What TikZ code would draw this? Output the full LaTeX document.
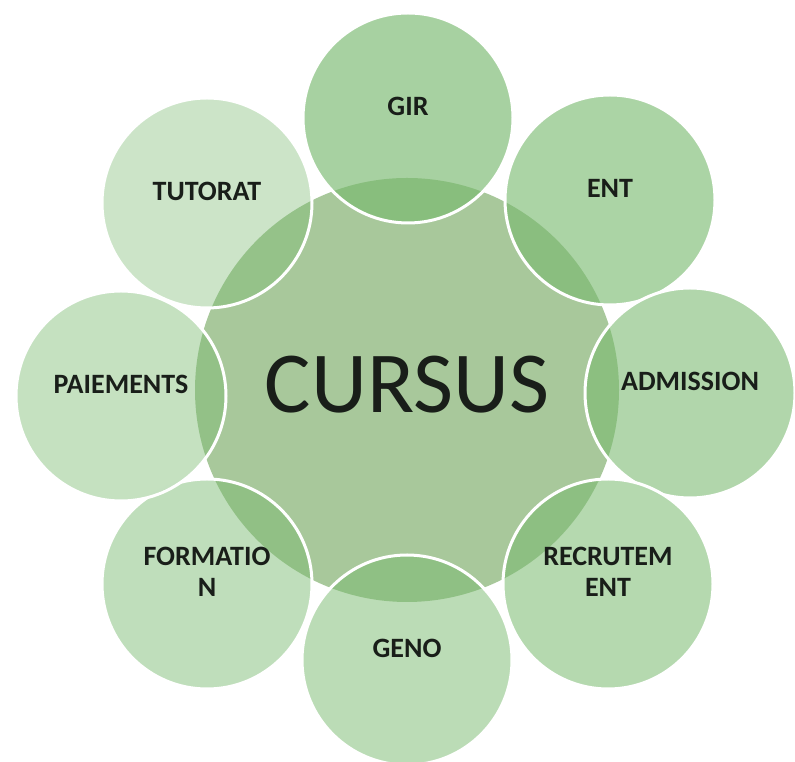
\documentclass[tikz,border=0pt]{standalone}
\usepackage{fontspec}
\setmainfont{Carlito}
\usetikzlibrary{shapes,positioning}
\definecolor{hubgreen}{RGB}{168,200,155}
\definecolor{leafgreen}{RGB}{120,185,110}
\definecolor{labeltext}{RGB}{25,30,25}

\begin{document}
\begin{tikzpicture}[x=1pt,y=1pt]
  \tikzstyle{hub} = [circle, fill=hubgreen, minimum size=424pt, inner sep=0pt, text=labeltext, font=\fontsize{87}{92}\selectfont, text depth=12pt]
  \tikzstyle{spoke} = [circle, draw=white, line width=3pt, fill=leafgreen, minimum size=210pt, inner sep=0pt, text=labeltext, align=center, font=\fontsize{28}{31}\selectfont\bfseries, text depth=24pt]

  \useasboundingbox (0,0) rectangle (795,762);

  \node[hub] (cursus) at (407,372) {CURSUS};

  \node[spoke, fill opacity=0.65, text opacity=1] (gir) at (408,644) {GIR};
  \node[spoke, fill opacity=0.62, text opacity=1] (ent) at (610,562) {ENT};
  \node[spoke, fill opacity=0.58, text opacity=1] (admission) at (690,369) {ADMISSION};
  \node[spoke, fill opacity=0.55, text opacity=1] (recrutement) at (608,178) {RECRUTEM\\ENT};
  \node[spoke, fill opacity=0.50, text opacity=1] (geno) at (407,102) {GENO};
  \node[spoke, fill opacity=0.47, text opacity=1] (formation) at (207,178) {FORMATIO\\N};
  \node[spoke, fill opacity=0.43, text opacity=1] (paiements) at (121,366) {PAIEMENTS};
  \node[spoke, fill opacity=0.38, text opacity=1] (tutorat) at (207,559) {TUTORAT};
\end{tikzpicture}
\end{document}
